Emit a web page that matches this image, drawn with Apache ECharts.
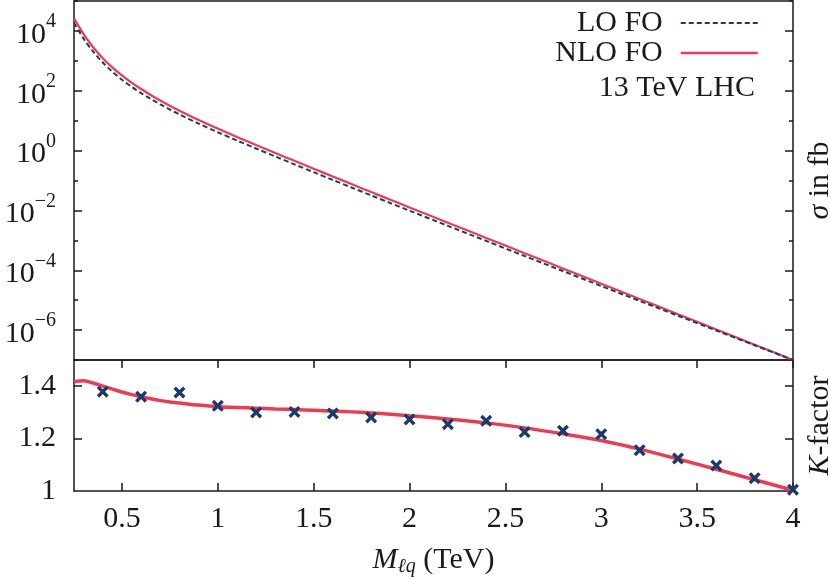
<!DOCTYPE html>
<html>
<head>
<meta charset="utf-8">
<script src="https://cdn.jsdelivr.net/npm/echarts@6/dist/echarts.min.js"></script>
<style>
  html, body { margin: 0; padding: 0; background: #fff; }
  #chart { width: 830px; height: 579px; }
</style>
</head>
<body>
<div id="chart"></div>
<script>
// ---- data ----
const mass = [0.25, 0.3, 0.35, 0.4, 0.45, 0.5, 0.55, 0.6, 0.65, 0.7, 0.75, 0.8, 0.9, 1.0,
              1.1, 1.2, 1.3, 1.4, 1.5, 1.6, 1.7, 1.8, 1.9, 2.0, 2.2, 2.4, 2.6, 2.8, 3.0,
              3.2, 3.4, 3.6, 3.8, 4.0];
const sigmaNLO = [26300, 7850, 2850, 1230, 603, 324, 186, 114, 72.4, 47.3, 31.6, 21.6,
                  10.6, 5.43, 2.86, 1.54, 0.834, 0.454, 0.248, 0.136, 0.0748, 0.0412, 0.0228,
                  0.0126, 3.89e-3, 1.20e-3, 3.72e-4, 1.15e-4, 3.55e-5, 1.10e-5, 3.39e-6,
                  1.05e-6, 3.24e-7, 1.0e-7];
const sigmaLO = [18600, 5530, 2020, 879, 434, 234, 136, 83.4, 53.6, 35.2, 23.6, 16.2,
                 7.98, 4.11, 2.17, 1.17, 0.635, 0.346, 0.190, 0.104, 0.0574, 0.0318, 0.0176,
                 9.77e-3, 3.05e-3, 9.55e-4, 2.99e-4, 9.42e-5, 2.97e-5, 9.46e-6, 3.02e-6,
                 9.66e-7, 3.10e-7, 9.98e-8];
const kCurve = [1.417, 1.421, 1.412, 1.400, 1.389, 1.378, 1.368, 1.360, 1.352, 1.345, 1.340,
                1.336, 1.328, 1.322, 1.319, 1.316, 1.313, 1.311, 1.308, 1.305, 1.302, 1.298,
                1.293, 1.287, 1.275, 1.260, 1.241, 1.218, 1.193, 1.160, 1.122, 1.083, 1.043,
                1.003];
const kMass = [0.4, 0.6, 0.8, 1.0, 1.2, 1.4, 1.6, 1.8, 2.0, 2.2, 2.4, 2.6, 2.8, 3.0, 3.2,
               3.4, 3.6, 3.8, 4.0];
const kPoints = [1.379, 1.360, 1.376, 1.325, 1.300, 1.302, 1.296, 1.281, 1.273, 1.255, 1.268,
                 1.225, 1.230, 1.217, 1.156, 1.124, 1.097, 1.049, 1.005];
const xTicks = [0.5, 1, 1.5, 2, 2.5, 3, 3.5, 4];
const kTicks = [1, 1.2, 1.4];
const kInnerTicks = [1.2, 1.4];
const sigmaMajorTicks = [1e-6, 1e-4, 1e-2, 1, 1e2, 1e4];
const legendNames = ['LO FO', 'NLO FO'];
const energyNote = '13 TeV LHC';

// ---- styling ----
const FONT = '"Liberation Serif", serif';
const INK = '#1a1a1a';
const RED = '#ee3a52';
const BLUE = '#1c3d74';
const MARK = '#1a3a6c';
const FS = 30;
const FS_SMALL = 20;

const pairs = (xs, ys) => xs.map((x, i) => [x, ys[i]]);

function sigmaLabel(v) {
  const e = Math.round(Math.log10(v));
  if (e % 2 !== 0 || e < -6 || e > 4) return '';
  return '{b|10}{s|' + String(e).replace('-', '\u2212') + '}';
}

const axisLineStyle = { show: true, onZero: false, lineStyle: { color: INK, width: 1.5 } };
const labelText = { fontFamily: FONT, fontSize: FS, color: INK };
const noSplit = { show: false };

const chart = echarts.init(document.getElementById('chart'), null, { renderer: 'canvas' });

const option = {
  animation: false,
  backgroundColor: '#fff',
  textStyle: { fontFamily: FONT },
  grid: [
    { left: 74, right: 37, top: 1, height: 359, containLabel: false, outerBoundsMode: 'none' },
    { left: 74, right: 37, top: 360, height: 131, containLabel: false, outerBoundsMode: 'none' }
  ],
  title: {
    text: energyNote, right: 75, top: 73, padding: 0,
    textStyle: { fontFamily: FONT, fontSize: FS, fontWeight: 'normal', color: INK, lineHeight: 30 }
  },
  legend: {
    orient: 'vertical', right: 71, top: 8, align: 'right', padding: 0,
    itemWidth: 77, itemHeight: 8, itemGap: 0,
    textStyle: { fontFamily: FONT, fontSize: FS, color: INK, lineHeight: 27, padding: [0, 13, 0, 0] },
    itemStyle: { opacity: 0 },
    data: [
      { name: legendNames[0], lineStyle: { color: BLUE, width: 2, type: [5, 3] }, itemStyle: { opacity: 0 } },
      { name: legendNames[1], lineStyle: { color: RED, width: 2.5, type: 'solid' }, itemStyle: { opacity: 0 } }
    ]
  },
  xAxis: [
    { gridIndex: 0, type: 'value', min: 0.25, max: 4, position: 'bottom',
      axisLine: axisLineStyle, axisTick: { show: false }, axisLabel: { show: false }, splitLine: noSplit },
    { gridIndex: 0, type: 'value', min: 0.25, max: 4, position: 'top',
      axisLine: axisLineStyle, axisTick: { show: false }, axisLabel: { show: false }, splitLine: noSplit },
    { gridIndex: 1, type: 'value', min: 0.25, max: 4, position: 'bottom',
      axisLine: axisLineStyle,
      axisTick: { inside: true, length: 8, customValues: xTicks, lineStyle: { color: INK, width: 1.5 } },
      axisLabel: Object.assign({ customValues: xTicks, margin: 13 }, labelText),
      splitLine: noSplit,
      name: '{m|M}{sub|\u2113q}{r| (TeV)}', nameLocation: 'middle', nameGap: 52,
      nameTextStyle: {
        fontFamily: FONT, fontSize: FS, color: INK,
        rich: {
          m: { fontFamily: FONT, fontSize: FS, fontStyle: 'italic', color: INK, lineHeight: 34 },
          sub: { fontFamily: FONT, fontSize: FS_SMALL, fontStyle: 'italic', color: INK, lineHeight: 20, verticalAlign: 'bottom' },
          r: { fontFamily: FONT, fontSize: FS, color: INK, lineHeight: 34 }
        }
      }
    },
    { gridIndex: 1, type: 'value', min: 0.25, max: 4, position: 'top',
      axisLine: axisLineStyle,
      axisTick: { inside: true, length: 8, customValues: xTicks, lineStyle: { color: INK, width: 1.5 } },
      axisLabel: { show: false }, splitLine: noSplit }
  ],
  yAxis: [
    { gridIndex: 0, type: 'log', min: 1e-7, max: 1e5, interval: 1, position: 'left',
      axisLine: axisLineStyle,
      axisTick: { inside: true, length: 4, lineStyle: { color: INK, width: 1.5 } },
      minorTick: { show: false },
      axisLabel: Object.assign({
        margin: 18, formatter: sigmaLabel,
        rich: {
          b: { fontFamily: FONT, fontSize: FS, color: INK, lineHeight: 38, verticalAlign: 'bottom' },
          s: { fontFamily: FONT, fontSize: FS_SMALL, color: INK, lineHeight: 24, verticalAlign: 'top' }
        }
      }, labelText),
      splitLine: noSplit },
    { gridIndex: 0, type: 'log', min: 1e-7, max: 1e5, interval: 1, position: 'right',
      axisLine: axisLineStyle,
      axisTick: { inside: true, length: 4, lineStyle: { color: INK, width: 1.5 } },
      minorTick: { show: false },
      axisLabel: { show: false }, splitLine: noSplit,
      name: '{i|\u03c3}{r| in fb}', nameLocation: 'middle', nameRotate: 90, nameGap: 12,
      nameTextStyle: {
        fontFamily: FONT, fontSize: FS, color: INK,
        rich: {
          i: { fontFamily: FONT, fontSize: FS, fontStyle: 'italic', color: INK },
          r: { fontFamily: FONT, fontSize: FS, color: INK }
        }
      }
    },
    { gridIndex: 0, type: 'log', min: 1e-7, max: 1e5, position: 'left',
      axisLine: { show: false },
      axisTick: { inside: true, length: 8, customValues: sigmaMajorTicks, lineStyle: { color: INK, width: 1.5 } },
      axisLabel: { show: false }, splitLine: noSplit },
    { gridIndex: 0, type: 'log', min: 1e-7, max: 1e5, position: 'right',
      axisLine: { show: false },
      axisTick: { inside: true, length: 8, customValues: sigmaMajorTicks, lineStyle: { color: INK, width: 1.5 } },
      axisLabel: { show: false }, splitLine: noSplit },
    { gridIndex: 1, type: 'value', min: 1, max: 1.5, position: 'left',
      axisLine: axisLineStyle,
      axisTick: { inside: true, length: 8, customValues: kInnerTicks, lineStyle: { color: INK, width: 1.5 } },
      axisLabel: Object.assign({ customValues: kTicks, margin: 18 }, labelText),
      splitLine: noSplit },
    { gridIndex: 1, type: 'value', min: 1, max: 1.5, position: 'right',
      axisLine: axisLineStyle,
      axisTick: { inside: true, length: 8, customValues: kInnerTicks, lineStyle: { color: INK, width: 1.5 } },
      axisLabel: { show: false }, splitLine: noSplit,
      name: '{i|K}{r|-factor}', nameLocation: 'middle', nameRotate: 90, nameGap: 12,
      nameTextStyle: {
        fontFamily: FONT, fontSize: FS, color: INK,
        rich: {
          i: { fontFamily: FONT, fontSize: FS, fontStyle: 'italic', color: INK },
          r: { fontFamily: FONT, fontSize: FS, color: INK }
        }
      }
    }
  ],
  series: [
    { name: legendNames[0], type: 'line', xAxisIndex: 0, yAxisIndex: 0,
      data: pairs(mass, sigmaLO), smooth: 0.3, symbol: 'none', clip: true,
      lineStyle: { color: BLUE, width: 2, type: [5, 3] }, itemStyle: { color: BLUE }, z: 3 },
    { name: legendNames[1], type: 'line', xAxisIndex: 0, yAxisIndex: 0,
      data: pairs(mass, sigmaNLO), smooth: 0.3, symbol: 'none', clip: true,
      lineStyle: { color: RED, width: 2.2 }, itemStyle: { color: RED }, z: 2 },
    { name: 'K curve', type: 'line', xAxisIndex: 2, yAxisIndex: 4,
      data: pairs(mass, kCurve), smooth: 0.3, symbol: 'none', clip: true,
      lineStyle: { color: RED, width: 3.5 }, itemStyle: { color: RED }, z: 2 },
    { name: 'K points', type: 'scatter', xAxisIndex: 2, yAxisIndex: 4,
      data: pairs(kMass, kPoints),
      symbol: 'path://M2,0L5,3L8,0L10,2L7,5L10,8L8,10L5,7L2,10L0,8L3,5L0,2Z',
      symbolSize: 12, clip: false,
      itemStyle: { color: MARK, opacity: 1 }, z: 4 }
  ]
};
chart.setOption(option);
</script>
</body>
</html>
